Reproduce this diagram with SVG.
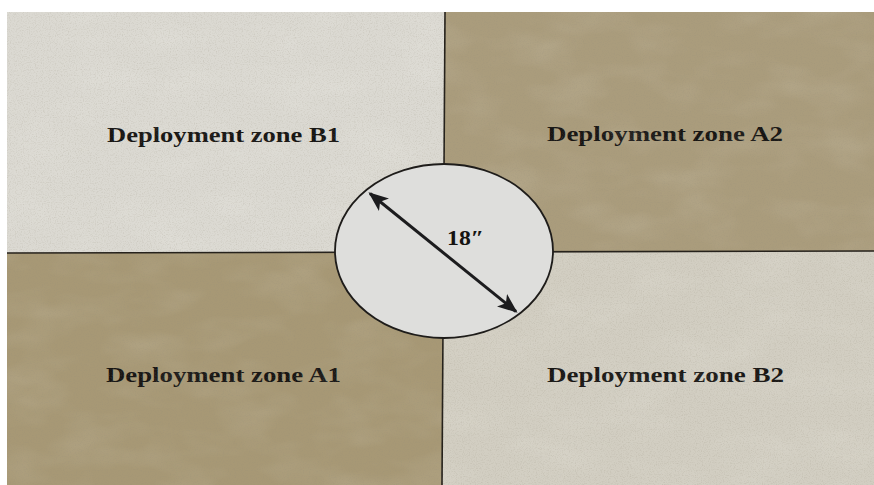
<svg xmlns="http://www.w3.org/2000/svg" width="874" height="485" viewBox="0 0 874 485">
  <defs>
    <style>
      .label { font-family: "Liberation Serif", "Times New Roman", serif; font-weight: bold; font-size: 20px; fill: #161412; }
      .size { font-size: 22px; }
      .edge { stroke: #26221c; stroke-width: 1.6; fill: none; }
      .dim { stroke: #1c1c1e; stroke-width: 3; fill: none; }
    </style>
    <!-- fine grain of the mat surface -->
    <filter id="grain" x="0" y="0" width="100%" height="100%">
      <feTurbulence type="fractalNoise" baseFrequency="0.85" numOctaves="2" seed="7" result="n"/>
      <feColorMatrix in="n" type="matrix" values="0 0 0 0 0.3  0 0 0 0 0.27  0 0 0 0 0.2  0 0 0 1.6 -0.75"/>
    </filter>
    <!-- broad mottling -->
    <filter id="mottle" x="0" y="0" width="100%" height="100%">
      <feTurbulence type="fractalNoise" baseFrequency="0.015 0.03" numOctaves="3" seed="11" result="m"/>
      <feColorMatrix in="m" type="matrix" values="0 0 0 0 1  0 0 0 0 1  0 0 0 0 0.95  0 0 0 1.2 -0.5"/>
    </filter>
    <marker id="head" viewBox="0 0 20 16" refX="18" refY="8" markerWidth="20" markerHeight="16" markerUnits="userSpaceOnUse" orient="auto-start-reverse">
      <path d="M0,0 L20,8 L0,16 L5,8 Z" fill="#1c1c1e"/>
    </marker>
  </defs>

  <rect width="874" height="485" fill="#ffffff"/>

  <!-- four deployment quadrants -->
  <g id="zone-b1">
    <polygon points="7,12 445,12 443.5,252 7,253" fill="#dbd9d2"/>
    <text class="label" x="107" y="142" textLength="233" lengthAdjust="spacingAndGlyphs">Deployment zone B1</text>
  </g>
  <g id="zone-a2">
    <polygon points="445,12 874,12 874,251 443.5,252" fill="#aa9c7c"/>
    <text class="label" x="547" y="141" textLength="236" lengthAdjust="spacingAndGlyphs">Deployment zone A2</text>
  </g>
  <g id="zone-a1">
    <polygon points="7,253 443.5,252 442,485 7,485" fill="#a79875"/>
    <text class="label" x="106" y="382" textLength="235" lengthAdjust="spacingAndGlyphs">Deployment zone A1</text>
  </g>
  <g id="zone-b2">
    <polygon points="443.5,252 874,251 874,485 442,485" fill="#d2cec2"/>
    <text class="label" x="547" y="382" textLength="237" lengthAdjust="spacingAndGlyphs">Deployment zone B2</text>
  </g>

  <!-- surface texture -->
  <rect x="7" y="12" width="867" height="473" filter="url(#mottle)" opacity="0.16"/>
  <rect x="7" y="12" width="867" height="473" filter="url(#grain)" opacity="0.3"/>

  <!-- quadrant boundaries -->
  <g id="connectors">
    <path class="edge" d="M7,253 L874,251"/>
    <path class="edge" d="M445,12 L442,485"/>
  </g>

  <!-- central objective circle -->
  <g id="center">
    <ellipse cx="444" cy="251" rx="109" ry="87" fill="#dededc" stroke="#1e1c1a" stroke-width="1.8"/>
    <line class="dim" x1="370" y1="193.5" x2="516" y2="311.5" marker-start="url(#head)" marker-end="url(#head)"/>
    <text class="label size" x="447" y="245" textLength="37" lengthAdjust="spacingAndGlyphs">18″</text>
  </g>
</svg>
